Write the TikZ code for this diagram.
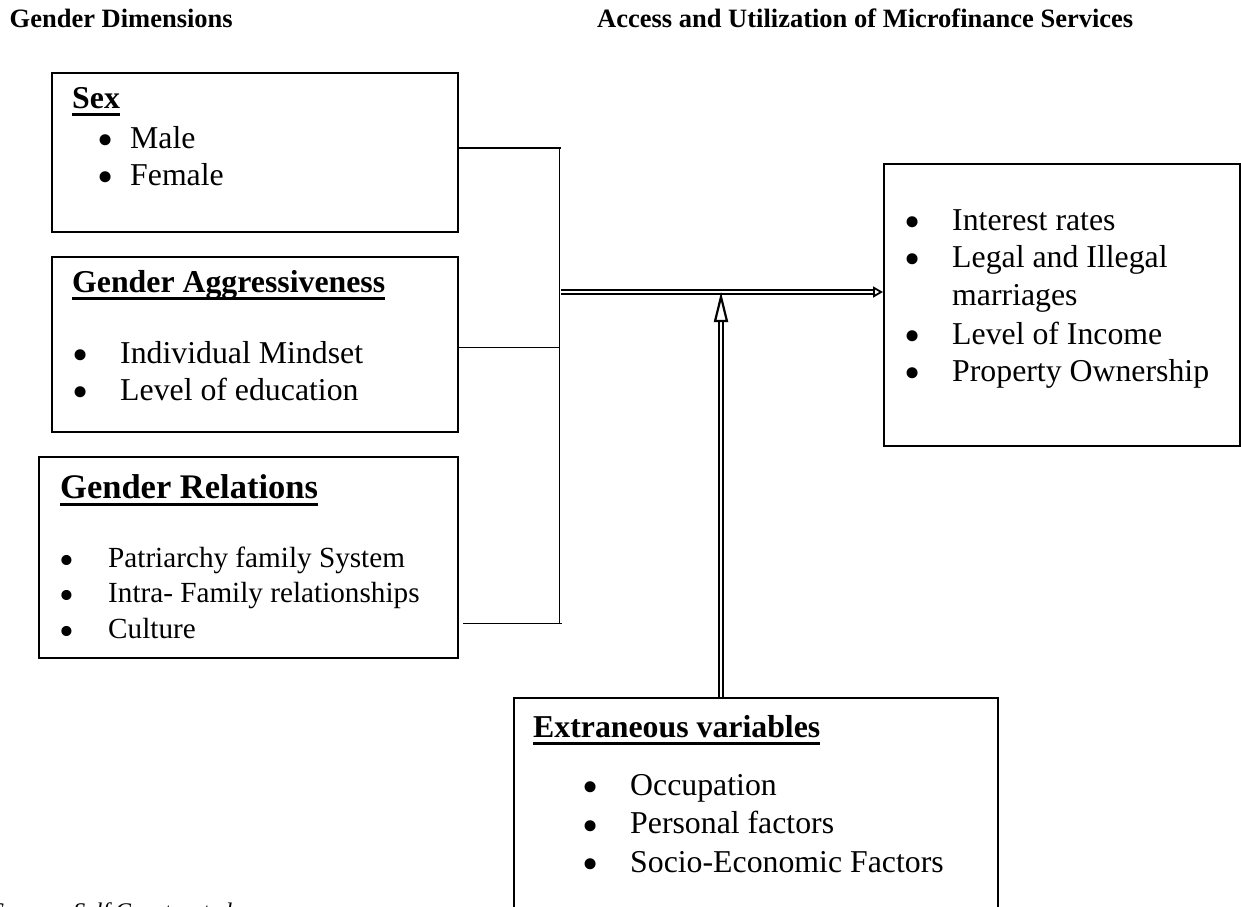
\documentclass[tikz,border=0pt]{standalone}
\usepackage{fontspec}
\setmainfont{Liberation Serif}
\usepackage{tikz}
\usetikzlibrary{arrows.meta,positioning,calc}

% underlined heading, rule running through the descenders
\newcommand\hdul[1]{\setbox0=\hbox{#1}\rlap{\rule[-8pt]{\wd0}{3pt}}\box0}
% larger list bullet
\newcommand\blt{\smash{\raisebox{-0.25em}{\scalebox{1.45}{\textbullet}}}}

\begin{document}
\begin{tikzpicture}[
  x=1pt, y=-1pt,
  box/.style={draw, line width=2pt, inner sep=0pt, anchor=north west},
  title/.style={font=\fontsize{26.5}{30}\selectfont\bfseries, anchor=base west, inner sep=0pt},
  head/.style={font=\fontsize{31.8}{36}\selectfont\bfseries, anchor=base west, inner sep=0pt},
  item/.style={font=\fontsize{31.8}{36}\selectfont, anchor=base west, inner sep=0pt},
  smallitem/.style={font=\fontsize{29.2}{33}\selectfont, anchor=base west, inner sep=0pt},
  dblarrow/.style={double, double distance=2pt, line width=2pt},
]
\useasboundingbox (0,0) rectangle (1241,906);

% Titles
\node[title] (tleft) at (9.5,27) {Gender Dimensions};
\node[title] (tright) at (597,27) {Access and Utilization of Microfinance Services};

% Boxes
\node[box, minimum width=406pt, minimum height=159pt] (sex) at (51,72) {};
\node[box, minimum width=406pt, minimum height=175pt] (aggr) at (51,256) {};
\node[box, minimum width=419pt, minimum height=201pt] (rel) at (38,456) {};
\node[box, minimum width=356pt, minimum height=282pt] (out) at (883,163) {};
\node[box, minimum width=484pt, minimum height=240pt] (ext) at (513,697) {};

% Sex
\node[head] (sexh) at (72,108) {\hdul{Sex}};
\foreach \txt [count=\i] in {Male, Female}
  \node[item] (sexi\i) at (97,{148+37*(\i-1)}) {\makebox[33pt][l]{\blt}\txt};

% Gender Aggressiveness
\node[head] (aggrh) at (72,292) {\hdul{Gender Aggressiveness}};
\foreach \txt [count=\i] in {Individual Mindset, Level of education}
  \node[item] (aggri\i) at (72,{363+37*(\i-1)}) {\makebox[48pt][l]{\blt}\txt};

% Gender Relations
\node[head, font=\fontsize{34.5}{40}\selectfont\bfseries] (relh) at (60,498) {\hdul{Gender Relations}};
\foreach \txt [count=\i] in {Patriarchy family System, Intra- Family relationships, Culture}
  \node[smallitem] (reli\i) at (59.5,{567+35.5*(\i-1)}) {\makebox[48.5pt][l]{\blt}\txt};

% Access and utilization
\foreach \txt/\yy [count=\i] in {Interest rates/230, Legal and Illegal/267, Level of Income/344, Property Ownership/381}
  \node[item] (outi\i) at (904,\yy) {\makebox[48pt][l]{\blt}\txt};
\node[item] (outc) at (952,305) {marriages};

% Extraneous variables
\node[head] (exth) at (533,737) {\hdul{Extraneous variables}};
\foreach \txt [count=\i] in {Occupation, Personal factors, Socio-Economic Factors}
  \node[item] (exti\i) at (582,{795+38.5*(\i-1)}) {\makebox[48pt][l]{\blt}\txt};

% Source
\node[font=\fontsize{23.85}{28}\selectfont\itshape, anchor=base west, inner sep=0pt] (src) at (-8,919) {Source: Self Constructed};

% Bracket joining the three dimensions
\coordinate (bt) at (559,148);
\coordinate (ba) at (559,347);
\coordinate (bb) at (559,623);
\draw[line width=1.8pt] (sex.east |- bt) -- ($(bt)+(2,0)$);
\draw[line width=1pt] (bt) -- (bb);
\draw[line width=1pt] (aggr.east |- ba) -- (ba);
\draw[line width=1pt] ($(rel.east |- bb)+(4,0)$) -- ($(bb)+(3,0)$);

% Double arrows
\coordinate (hub) at (561,292);
\coordinate (jn) at (721,292);
\draw[dblarrow, -{Triangle[open, fill=white, length=10pt, width=11pt, line width=1.8pt]}] (hub) -- (hub -| out.west);
\draw[dblarrow, -{Triangle[open, fill=white, length=30pt, width=14pt, line width=2.2pt]}] (ext.north -| jn) -- (jn);
\end{tikzpicture}
\end{document}
